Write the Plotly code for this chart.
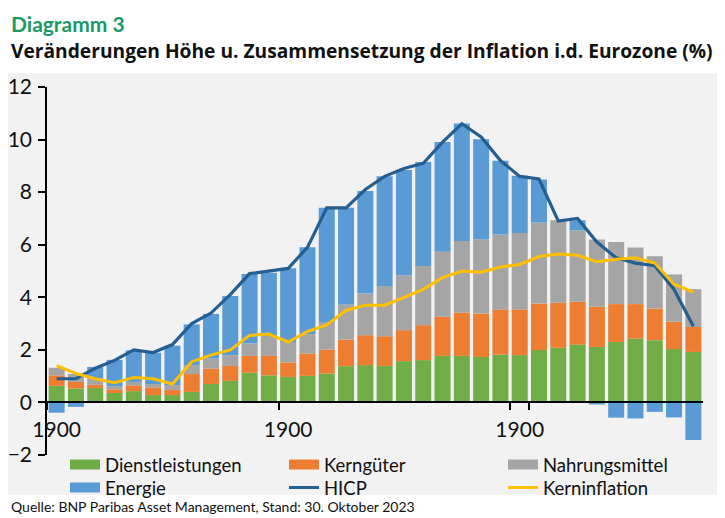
import plotly.graph_objects as go

# Monatswerte Jan 2021 - Okt 2023, Beiträge in Prozentpunkten
monate = ["2021-01", "2021-02", "2021-03", "2021-04", "2021-05", "2021-06",
          "2021-07", "2021-08", "2021-09", "2021-10", "2021-11", "2021-12",
          "2022-01", "2022-02", "2022-03", "2022-04", "2022-05", "2022-06",
          "2022-07", "2022-08", "2022-09", "2022-10", "2022-11", "2022-12",
          "2023-01", "2023-02", "2023-03", "2023-04", "2023-05", "2023-06",
          "2023-07", "2023-08", "2023-09", "2023-10"]

dienstleistungen = [0.63, 0.53, 0.55, 0.36, 0.43, 0.28, 0.28, 0.40, 0.70, 0.82, 1.13, 1.03,
                    0.97, 1.01, 1.10, 1.38, 1.42, 1.39, 1.57, 1.61, 1.77, 1.77, 1.73, 1.82,
                    1.80, 1.99, 2.08, 2.20, 2.11, 2.30, 2.43, 2.37, 2.03, 1.92]
kerngueter = [0.40, 0.25, 0.12, 0.14, 0.22, 0.29, 0.19, 0.68, 0.59, 0.57, 0.64, 0.74,
              0.55, 0.85, 0.91, 1.01, 1.14, 1.13, 1.18, 1.33, 1.49, 1.65, 1.65, 1.72,
              1.74, 1.77, 1.71, 1.63, 1.53, 1.44, 1.31, 1.20, 1.04, 0.95]
nahrungsmittel = [0.29, 0.30, 0.25, 0.12, 0.13, 0.13, 0.19, 0.34, 0.38, 0.41, 0.47, 0.76,
                  0.78, 0.74, 1.05, 1.34, 1.58, 1.91, 2.09, 2.25, 2.47, 2.72, 2.83, 2.85,
                  2.91, 3.08, 3.14, 2.72, 2.56, 2.36, 2.15, 1.99, 1.80, 1.44]
energie = [-0.39, -0.17, 0.43, 1.00, 1.20, 1.19, 1.50, 1.55, 1.70, 2.25, 2.65, 2.40,
           2.80, 3.30, 4.35, 3.68, 3.90, 4.17, 4.00, 3.96, 4.18, 4.47, 3.80, 2.80,
           2.17, 1.64, 0.00, 0.38, -0.08, -0.58, -0.61, -0.36, -0.57, -1.43]
hicp = [0.9, 0.9, 1.3, 1.6, 2.0, 1.9, 2.2, 3.0, 3.4, 4.1, 4.9, 5.0,
        5.1, 5.9, 7.4, 7.4, 8.1, 8.6, 8.9, 9.1, 9.9, 10.6, 10.1, 9.2,
        8.6, 8.5, 6.9, 7.0, 6.1, 5.5, 5.3, 5.2, 4.3, 2.9]
kerninflation = [1.4, 1.1, 0.9, 0.75, 0.95, 0.9, 0.7, 1.55, 1.8, 2.0, 2.55, 2.6,
                 2.3, 2.7, 2.95, 3.5, 3.7, 3.7, 4.0, 4.3, 4.75, 5.0, 4.95, 5.15,
                 5.25, 5.55, 5.65, 5.6, 5.35, 5.45, 5.5, 5.3, 4.5, 4.2]

x_ticks = ["2021-01", "2022-01", "2023-01"]
x_ticktext = ["1900", "1900", "1900"]   # so steht es im Original
y_min, y_max = -2, 12

GREEN, ORANGE, GREY, BLUE = "#70AD47", "#ED7D31", "#A5A5A5", "#5B9BD5"
NAVY, YELLOW = "#255E91", "#FFC000"
FONT = "Lato"

# die Seite hat 8px Rand, daher Figur etwas kleiner und Koordinaten verschoben
OFF = 8
W, H = 725 - OFF, 518 - OFF
L, R, T, B = 47 - OFF, 703 - OFF, 86.7 - OFF, 455 - OFF


def px(x):
    # x in Bildpixeln (Screenshot) -> paper
    return (x - OFF - L) / (R - L)


def py(y):
    return (B - (y - OFF)) / (B - T)


fig = go.Figure()

bars = [("Dienstleistungen", dienstleistungen, GREEN),
        ("Kerngüter", kerngueter, ORANGE),
        ("Nahrungsmittel", nahrungsmittel, GREY),
        ("Energie", energie, BLUE)]
for name, vals, col in bars:
    fig.add_trace(go.Bar(x=monate, y=vals, name=name, marker_color=col,
                         marker_line_width=0, showlegend=False))

fig.add_trace(go.Scatter(x=monate, y=hicp, name="HICP", mode="lines",
                         line=dict(color=NAVY, width=3.2), showlegend=False))
fig.add_trace(go.Scatter(x=monate, y=kerninflation, name="Kerninflation", mode="lines",
                         line=dict(color=YELLOW, width=3), showlegend=False))

# Legendeneinträge (breite Balkensymbole wie im Original)
legend_rows = [("Dienstleistungen", GREEN, 10, "legend"),
               ("Kerngüter", ORANGE, 10, "legend"),
               ("Nahrungsmittel", GREY, 10, "legend"),
               ("Energie", BLUE, 10, "legend2"),
               ("HICP", NAVY, 3, "legend2"),
               ("Kerninflation", YELLOW, 3, "legend2")]
for name, col, lw, lg in legend_rows:
    fig.add_trace(go.Scatter(x=[None], y=[None], name=name, mode="lines",
                             line=dict(color=col, width=lw), legend=lg))

leg_common = dict(orientation="h", xanchor="left", yanchor="middle",
                  bgcolor="rgba(0,0,0,0)", font=dict(family=FONT, size=18.5, color="#111"),
                  entrywidth=174, itemwidth=30, tracegroupgap=0)

fig.update_layout(
    width=W, height=H,
    margin=dict(l=L, r=W - R, t=T, b=H - B, autoexpand=False),
    paper_bgcolor="white", plot_bgcolor="#F2F2F2",
    barmode="relative", bargap=0.17,
    font=dict(family=FONT, color="#111"),
    legend=dict(x=px(65), y=py(465), **leg_common),
    legend2=dict(x=px(65), y=py(488), **leg_common),
    xaxis=dict(type="category", tickmode="array", tickvals=x_ticks, ticktext=x_ticktext,
               tickson="boundaries", tickangle=0, ticks="outside", ticklen=7, tickwidth=1.5,
               tickcolor="black", showline=True, linecolor="black", linewidth=1.5,
               showgrid=False, anchor="free", position=(0 - y_min) / (y_max - y_min),
               ticklabelstandoff=9,
               tickfont=dict(family=FONT, size=21, color="#111")),
    yaxis=dict(range=[y_min, y_max], dtick=2, ticks="outside", ticklen=7, tickwidth=1.5,
               tickcolor="black", showline=True, linecolor="black", linewidth=1.5,
               showgrid=False, zeroline=False, ticklabelstandoff=2,
               tickfont=dict(family=FONT, size=21, color="#111")),
    shapes=[dict(type="rect", xref="paper", yref="paper", x0=px(0), x1=px(730),
                 y0=py(495), y1=py(73), fillcolor="#F2F2F2", line_width=0, layer="below")],
    annotations=[
        dict(text="<b>Diagramm 3</b>", xref="paper", yref="paper", x=px(9), y=py(23),
             xanchor="left", yanchor="middle", showarrow=False,
             font=dict(family=FONT, size=21, color="#1A9A68")),
        dict(text="<b>Veränderungen Höhe u. Zusammensetzung der Inflation i.d. Eurozone (%)</b>",
             xref="paper", yref="paper", x=px(9), y=py(50), xanchor="left", yanchor="middle",
             showarrow=False, font=dict(family="Open Sans", size=19.2, color="#111")),
        dict(text="Quelle: BNP Paribas Asset Management, Stand: 30. Oktober 2023",
             xref="paper", yref="paper", x=px(9), y=py(507), xanchor="left", yanchor="middle",
             showarrow=False, font=dict(family=FONT, size=14, color="#111")),
    ],
)

fig.write_html("out.html")
